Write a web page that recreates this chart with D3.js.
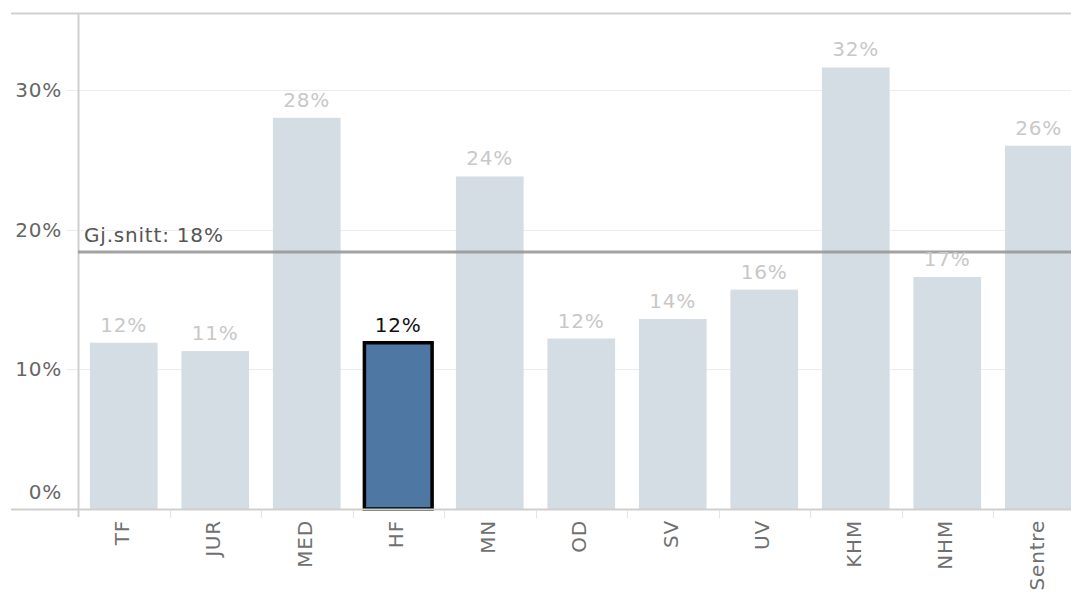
<!DOCTYPE html>
<html><head><meta charset="utf-8">
<script src="https://cdn.jsdelivr.net/npm/d3@7"></script>
<style>html,body{margin:0;padding:0;background:#fff;overflow:hidden}</style>
</head><body><svg id="c" width="1071" height="592"></svg>
<script>
const categories = ["TF","JUR","MED","HF","MN","OD","SV","UV","KHM","NHM","Sentre"];
const values = [0.119, 0.113, 0.280, 0.119, 0.238, 0.122, 0.136, 0.157, 0.316, 0.166, 0.260];
const labels = ["12%","11%","28%","12%","24%","12%","14%","16%","32%","17%","26%"];
const highlighted = "HF";
const average = 0.184;
const averageLabel = "Gj.snitt: 18%";
const yTicks = [0, 0.1, 0.2, 0.3];

const svg = d3.select("#c");
const font = "'DejaVu Sans', sans-serif";
const fs = 20;
const ls = 0.8;
const x0 = 78, yBase = 509, yTop = 13, W = 1071;
const x = d3.scaleBand().domain(categories).range([x0, x0 + 11*91.5]).padding(0);
const y = d3.scaleLinear().domain([0, 0.355]).range([yBase, yTop]);
const barW = x.bandwidth()*0.74;

// gridlines
svg.append("g").selectAll("line").data(yTicks.filter(d=>d>0)).join("line")
  .attr("x1", 67).attr("x2", W).attr("y1", d=>Math.round(y(d))+0.5).attr("y2", d=>Math.round(y(d))+0.5)
  .attr("stroke", "#ececec").attr("stroke-width", 1);

// top border
svg.append("line").attr("x1", 11).attr("x2", W).attr("y1", yTop+0.5).attr("y2", yTop+0.5)
  .attr("stroke", "#d0d0d0").attr("stroke-width", 2);

// bars
svg.append("g").selectAll("rect").data(categories).join("rect")
  .attr("x", (d)=>x(d) + (x.bandwidth()-barW)/2)
  .attr("width", barW)
  .attr("y", (d,i)=>y(values[i]))
  .attr("height", (d,i)=>yBase - y(values[i]))
  .attr("fill", d=> d===highlighted ? "#4e77a3" : "#d4dce4")
  .attr("stroke", d=> d===highlighted ? "#000" : "none")
  .attr("stroke-width", 3.5);

// baseline
svg.append("line").attr("x1", 11).attr("x2", W).attr("y1", yBase+0.5).attr("y2", yBase+0.5)
  .attr("stroke", "#cfcfcf").attr("stroke-width", 2);
// y axis line
svg.append("line").attr("x1", x0+0.5).attr("x2", x0+0.5).attr("y1", yTop).attr("y2", yBase+8)
  .attr("stroke", "#cfcfcf").attr("stroke-width", 2);

// category separators
svg.append("g").selectAll("line").data(categories.slice(1)).join("line")
  .attr("x1", d=>Math.round(x(d))+0.5).attr("x2", d=>Math.round(x(d))+0.5)
  .attr("y1", yBase+1).attr("y2", yBase+9)
  .attr("stroke", "#e4e4e4").attr("stroke-width", 1);

// average line
svg.append("line").attr("x1", x0).attr("x2", W).attr("y1", y(average)).attr("y2", y(average))
  .attr("stroke", "#999").attr("stroke-width", 3).attr("opacity", 0.9);
svg.append("text").attr("x", 84).attr("y", y(average)-10)
  .attr("font-family", font).attr("font-size", fs).attr("letter-spacing", ls).attr("fill", "#555").text(averageLabel);

// value labels
svg.append("g").selectAll("text").data(categories).join("text")
  .attr("x", d=>x(d)+x.bandwidth()/2)
  .attr("y", (d,i)=>y(values[i]) - 11)
  .attr("text-anchor", "middle")
  .attr("font-family", font).attr("font-size", fs).attr("letter-spacing", ls)
  .attr("fill", d=> d===highlighted ? "#111" : "#c8c8c8")
  .text((d,i)=>labels[i]);

// y tick labels
svg.append("g").selectAll("text").data(yTicks).join("text")
  .attr("x", 62).attr("y", d=>y(d)+ (d===0 ? -10 : 7))
  .attr("text-anchor", "end")
  .attr("font-family", font).attr("font-size", fs).attr("letter-spacing", ls).attr("fill", "#666")
  .text(d=>d3.format(".0%")(d));

// category labels
svg.append("g").selectAll("text").data(categories).join("text")
  .attr("transform", d=>`translate(${x(d)+x.bandwidth()/2+5},${yBase+11}) rotate(-90)`)
  .attr("text-anchor", "end")
  .attr("font-family", font).attr("font-size", fs).attr("letter-spacing", ls).attr("fill", "#707070")
  .text(d=>d);
</script></body></html>
